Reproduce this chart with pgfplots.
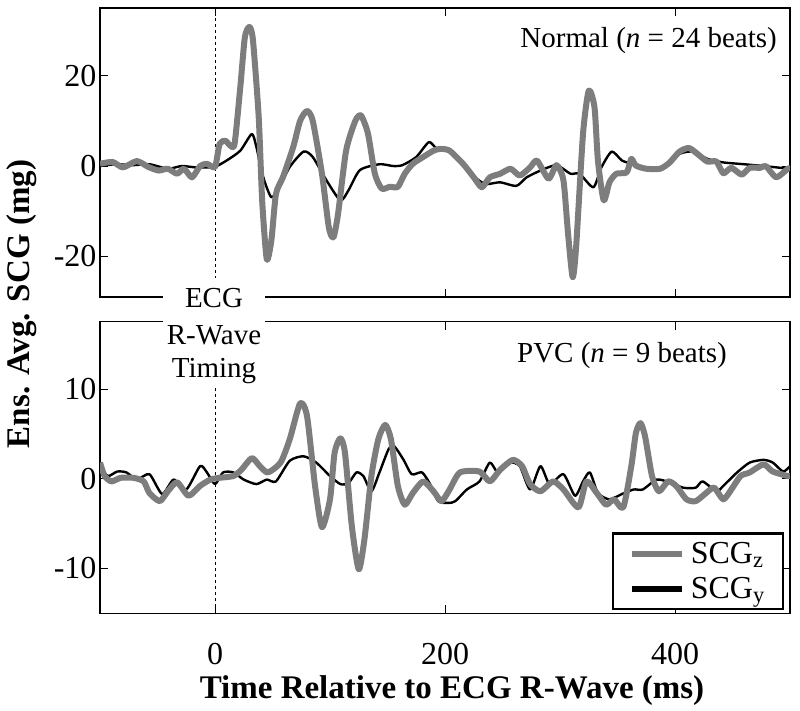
\documentclass[border=0pt]{standalone}
\usepackage{fontspec}
\setmainfont{Liberation Serif}
\usepackage{pgfplots}
\pgfplotsset{compat=1.18}
\definecolor{scgz}{RGB}{125,125,125}
\pgfplotsset{
  myax/.style={
    scale only axis, width=690pt, xmin=-100, xmax=500,
    xtick={0,200,400}, tick align=inside, major tick length=8pt,
    axis line style={line width=1.2pt},
    every tick/.style={black, line width=0.8pt},
    tick label style={font=\fontsize{32}{36}\selectfont},
    xticklabel style={anchor=base, yshift=-51pt},
  },
  gz/.style={color=scgz, line width=6pt, smooth, tension=0.4, line join=round},
  gy/.style={color=black, line width=2.4pt, smooth, tension=0.4, line join=round},
}
\begin{document}
\begin{tikzpicture}
\useasboundingbox (0pt,0pt) rectangle (800pt,711pt);
% top panel
\begin{axis}[myax, name=top, at={(100pt,414pt)}, anchor=south west, height=289pt,
  ymin=-29, ymax=35, ytick={-20,0,20}, yticklabels={-20,0,20}, xticklabels={}]
\addplot[black, dashed, line width=0.8pt, forget plot] coordinates {(0,-29) (0,35)};
\addplot[gy] coordinates {(-100,0) (-86,0.4) (-71,0.2) (-57,0.4) (-41,-0.6) (-29,0) (-17,-0.3) (-6,-0.3) (0,-0.2) (10,1.2) (22,3.4) (32,7.1) (36,4.2) (42,-2.5) (49,-6.9) (56,-4.7) (65,-0.2) (77,3.2) (85,2) (97,-3.2) (109,-7.6) (116,-5.4) (126,-0.9) (143,0.4) (155,0) (163,0.2) (175,2) (186,5.3) (193,3.8) (204,3.2) (216,0.4) (228,-2.9) (236,-4) (248,-3.6) (262,-4.4) (271,-2.5) (283,-1) (297,0.2) (309,-1.7) (317,-1.7) (329,-4.7) (336,-0.3) (345,3.2) (354,1.2) (364,0.4) (375,-0.4) (389,-0.4) (404,2.7) (416,3.2) (428,1.6) (442,0.8) (460,0.4) (477,0) (492,-0.4) (500,-0.6)};
\addplot[gz] coordinates {(-100,0.5) (-89,0.9) (-80,-0.3) (-68,1.1) (-58,-0.2) (-49,-1) (-41,-0.6) (-33,-1.7) (-27,-0.6) (-20,-2.5) (-13,0) (-7,0.5) (0,-0.2) (4,4.9) (9,5.6) (13,4.6) (17,4.9) (22,17.5) (26,28.6) (30,30.8) (33,27.9) (38,10.9) (41,-7.6) (45,-20.6) (49,-16.5) (53,-6.2) (59,-2.5) (68,4.2) (74,10) (80,12.2) (85,10) (93,-1.7) (99,-13.6) (103,-15.8) (107,-10.6) (114,3.4) (122,10) (127,11.2) (133,7.2) (139,-1.7) (145,-5) (152,-4.6) (159,-4.6) (165,-1.7) (172,0.5) (181,2) (190,3.4) (196,3.8) (204,3.4) (216,0.4) (225,-2.5) (232,-4.7) (239,-2.5) (248,-1.7) (257,-0.6) (265,-2.1) (274,-0.3) (280,1.2) (290,-2.8) (297,0.2) (303,-3.2) (307,-15) (311,-24.6) (314,-18) (320,7.1) (325,16.7) (330,13) (333,1.2) (338,-7.6) (343,-3.6) (349,-1.7) (358,-1.4) (362,1.6) (366,0.1) (375,-0.6) (387,-0.6) (395,0.7) (404,3.2) (412,4) (419,2.8) (428,1) (436,1) (442,-1.6) (449,-0.4) (458,-1.9) (465,-0.4) (474,-0.4) (479,0) (488,-2.5) (498,-0.6) (500,-0.5)};
\end{axis}
% bottom panel
\begin{axis}[myax, name=bot, at={(100pt,97.7pt)}, anchor=south west, height=291.6pt,
  ymin=-15, ymax=17.5, ytick={-10,0,10}, yticklabels={-10,0,10}, xticklabels={0,200,400},
  legend style={at={(axis description cs:1,0)}, anchor=south east, xshift=-6pt, yshift=3pt,
    draw=black, line width=2.5pt, font=\fontsize{32}{36}\selectfont,
    inner xsep=16pt, inner ysep=7pt, row sep=8pt, cells={anchor=west},
    /tikz/every odd column/.style={column sep=4pt}},
  legend image code/.code={\draw[#1, line width=6pt] (0pt,0pt) -- (50pt,0pt);}]
\addplot[black, dashed, line width=0.8pt, forget plot] coordinates {(0,-15) (0,17.5)};
\addplot[gy, forget plot] coordinates {(-100,1.2) (-93,0.3) (-85,0.8) (-77,0.7) (-68,-0.1) (-57,0.5) (-46,-1.7) (-36,-0.1) (-25,-1.2) (-13,1.4) (-7,0.7) (0,-0.6) (7,0.7) (16,0.7) (25,-0.1) (36,-0.6) (45,-0.1) (53,-0.3) (65,2) (77,2.5) (88,1.8) (100,0.3) (109,-0.6) (116,-0.5) (123,0.7) (129,0.3) (136,-1.4) (143,0.7) (151,3.3) (156,3.6) (164,2.1) (171,0.5) (180,0.7) (187,-0.6) (194,-2.5) (203,-2.7) (209,-2.5) (219,-1.2) (230,-0.3) (239,1.8) (246,0.7) (256,1.8) (265,1.4) (274,-1.2) (283,1.4) (291,-0.6) (303,0.5) (313,-1.9) (320,-0.3) (326,0.7) (333,-1.6) (343,-2.3) (354,-1.7) (364,-1.2) (372,-1.2) (384,-0.1) (395,-0.4) (407,-1) (418,-1) (424,-0.3) (436,-1.4) (442,-0.8) (454,0.7) (465,1.8) (477,2.1) (485,1.8) (494,0.8) (500,1.4)};
\addplot[gz] coordinates {(-100,1.8) (-96,0.3) (-90,-0.3) (-82,0.1) (-71,0.1) (-62,-0.3) (-57,-1.6) (-48,-2.5) (-41,-1.4) (-33,-0.4) (-23,-1.9) (-13,-0.8) (-4,-0.1) (4,0.1) (16,0.3) (23,1) (32,2.3) (39,1.4) (46,0.7) (57,1.8) (65,4.4) (74,8.4) (80,7) (87,-0.8) (93,-5.4) (100,-2.3) (104,2.9) (109,4.5) (113,2.9) (119,-5.3) (125,-10.1) (130,-6.7) (136,0.3) (142,4.4) (148,6) (153,4.4) (159,-0.8) (165,-2.9) (172,-1.6) (181,-0.3) (190,-1.4) (197,-2.5) (204,-1.2) (213,0.7) (230,0.8) (239,-0.3) (248,1) (259,2.1) (267,1.4) (274,-0.6) (283,-1.4) (294,-0.3) (303,-1.2) (316,-3.2) (323,-0.3) (332,-1.6) (340,-2.9) (347,-2.3) (355,-3.2) (362,1.4) (366,5.1) (370,6.2) (374,4.7) (380,0.3) (386,-1.4) (394,-0.3) (401,-0.8) (410,-2.3) (418,-2.5) (427,-1.6) (434,-1) (442,-2.3) (449,-1.2) (457,0.3) (465,0.7) (477,1.6) (485,0.8) (498,0.3) (500,0.3)};
\addlegendentry{SCG\textsubscript{z}}
\addlegendimage{gy}
\addlegendentry{SCG\textsubscript{y}}
\end{axis}
% annotations
\fill[white] (163pt,323pt) rectangle (265pt,433pt);
\node[anchor=base, font=\fontsize{29}{33}\selectfont, inner sep=0pt] at (214pt,403pt) {ECG};
\node[anchor=base, font=\fontsize{29}{33}\selectfont, inner sep=0pt] at (214pt,366pt) {R-Wave};
\node[anchor=base, font=\fontsize{29}{33}\selectfont, inner sep=0pt] at (214pt,333pt) {Timing};
\node[anchor=base east, font=\fontsize{29}{33}\selectfont, inner sep=0pt] at (777pt,663pt) {Normal (\textit{n} = 24 beats)};
\node[anchor=base, font=\fontsize{29}{33}\selectfont, inner sep=0pt] at (622pt,348pt) {PVC (\textit{n} = 9 beats)};
\node[rotate=90, font=\bfseries\fontsize{33}{36}\selectfont, inner sep=0pt] at (22pt,407pt) {Ens. Avg. SCG (mg)};
\node[anchor=base, font=\bfseries\fontsize{33}{36}\selectfont, inner sep=0pt] at (452pt,12pt) {Time Relative to ECG R-Wave (ms)};
\end{tikzpicture}
\end{document}
